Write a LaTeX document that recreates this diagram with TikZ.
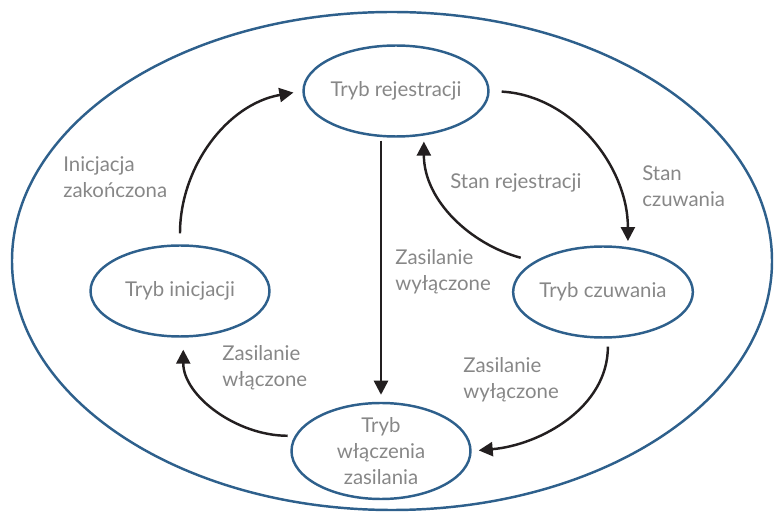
\documentclass[tikz,border=0pt]{standalone}
\usepackage{fontspec}
\setmainfont{Lato}
\usetikzlibrary{arrows.meta,shapes.geometric}
\definecolor{stateblue}{RGB}{46,96,140}
\definecolor{labelgray}{RGB}{135,135,135}
\definecolor{flowblack}{RGB}{35,31,32}
\tikzset{
  state/.style={ellipse,draw=stateblue,line width=1.4pt,inner sep=0pt,
    minimum width=3.58cm,minimum height=1.82cm,align=center,text=labelgray,
    font=\fontsize{11.6}{15}\selectfont},
  flow/.style={draw=flowblack,line width=1.4pt,
    -{Triangle[length=8pt,width=8pt]}},
  txt/.style={text=labelgray,align=left,anchor=west,inner sep=0pt,
    font=\fontsize{11.6}{15}\selectfont}
}
\begin{document}
\begin{tikzpicture}[x=0.02cm,y=-0.02cm]
\useasboundingbox (0,0) rectangle (779,513);
\draw[stateblue,line width=1.4pt](392,261) ellipse [x radius=380,y radius=249];
% states
\node[state] (rej) at (396,91) {Tryb rejestracji};
\node[state] (ini) at (180,291) {Tryb inicjacji};
\node[state] (czu) at (603,292) {Tryb czuwania};
\node[state,minimum height=1.86cm] (wl) at (381,451) {Tryb\\włączenia\\zasilania};
% transitions
\draw[flow,shorten <=0.22cm,shorten >=0.18cm](ini.90) to [out=90,in=190] (rej.west);
\draw[flow,shorten <=0.24cm,shorten >=0.12cm](rej.east) to [out=-3,in=90] (czu.61);
\draw[flow,shorten <=0.06cm,shorten >=0.14cm](rej.south -| wl.north) -- (wl.north);
\draw[flow,shorten <=0.28cm,shorten >=0.12cm](czu.156) to [out=165,in=-90] (rej.-58);
\draw[flow,shorten <=0.16cm,shorten >=0.14cm](czu.-84) to [out=-90,in=5] (wl.east);
\draw[flow,shorten <=0.14cm,shorten >=0.24cm](wl.170) to [out=180,in=-90] (ini.-86);
% labels
\node[txt] (l1) at (63,177) {Inicjacja\\zakończona};
\node[txt] (l2) at (450,183) {Stan rejestracji};
\node[txt] (l3) at (642,186) {Stan\\czuwania};
\node[txt] (l4) at (395,272) {Zasilanie\\wyłączone};
\node[txt] (l5) at (222,368) {Zasilanie\\włączone};
\node[txt] (l6) at (463,380) {Zasilanie\\wyłączone};
\end{tikzpicture}
\end{document}
